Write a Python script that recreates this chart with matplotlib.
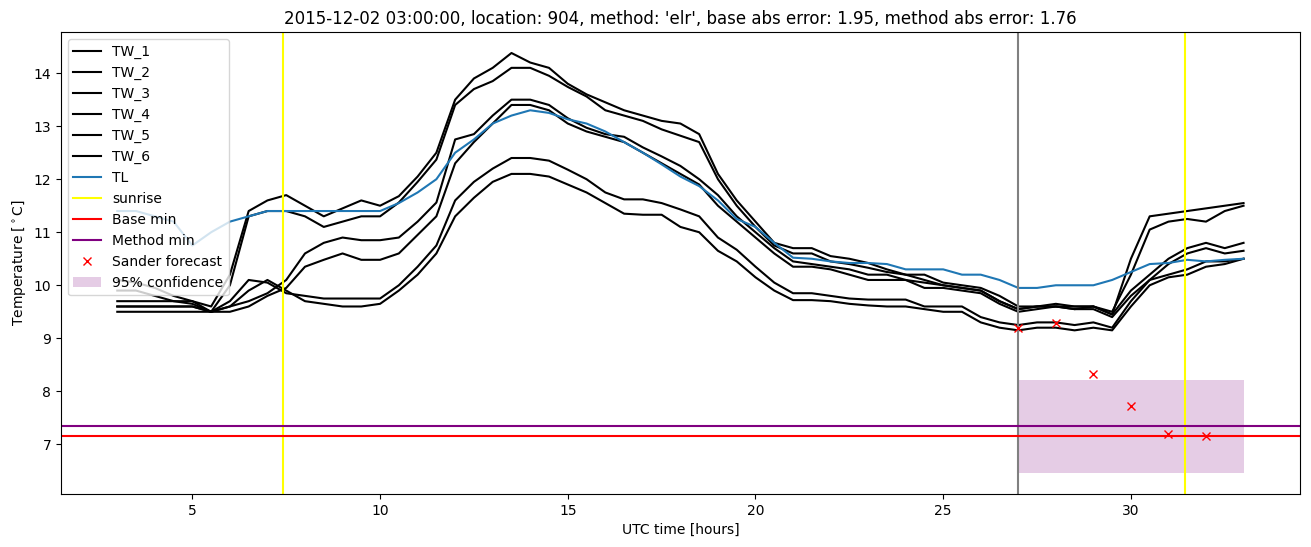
import matplotlib
matplotlib.use('Agg')
import matplotlib.pyplot as plt

# time axis [hours since 2015-12-01 00:00 UTC], half-hourly
hours = [3.0, 3.5, 4.0, 4.5, 5.0, 5.5, 6.0, 6.5, 7.0, 7.5,
         8.0, 8.5, 9.0, 9.5, 10.0, 10.5, 11.0, 11.5, 12.0, 12.5,
         13.0, 13.5, 14.0, 14.5, 15.0, 15.5, 16.0, 16.5, 17.0, 17.5,
         18.0, 18.5, 19.0, 19.5, 20.0, 20.5, 21.0, 21.5, 22.0, 22.5,
         23.0, 23.5, 24.0, 24.5, 25.0, 25.5, 26.0, 26.5, 27.0, 27.5,
         28.0, 28.5, 29.0, 29.5, 30.0, 30.5, 31.0, 31.5, 32.0, 32.5,
         33.0]

tw_1 = [9.7, 9.7, 9.7, 9.7, 9.7, 9.6, 10.2, 11.4, 11.6, 11.7,
        11.5, 11.3, 11.45, 11.6, 11.5, 11.68, 12.05, 12.5, 13.5, 13.9,
        14.1, 14.38, 14.2, 14.1, 13.8, 13.6, 13.45, 13.3, 13.2, 13.1,
        13.05, 12.85, 12.1, 11.6, 11.2, 10.8, 10.7, 10.7, 10.55, 10.5,
        10.42, 10.3, 10.2, 10.2, 10.05, 10.0, 9.95, 9.8, 9.6, 9.6,
        9.65, 9.6, 9.6, 9.45, 10.5, 11.3, 11.35, 11.4, 11.45, 11.5,
        11.55]
tw_2 = [9.6, 9.6, 9.6, 9.6, 9.6, 9.5, 10.0, 11.3, 11.4, 11.4,
        11.3, 11.1, 11.2, 11.3, 11.3, 11.56, 11.95, 12.37, 13.4, 13.7,
        13.85, 14.1, 14.1, 13.95, 13.74, 13.56, 13.3, 13.2, 13.1, 12.94,
        12.82, 12.7, 12.0, 11.5, 11.1, 10.75, 10.6, 10.6, 10.45, 10.4,
        10.33, 10.25, 10.2, 10.1, 10.0, 9.95, 9.9, 9.7, 9.55, 9.6,
        9.6, 9.55, 9.6, 9.5, 10.2, 11.05, 11.2, 11.25, 11.2, 11.4,
        11.5]
tw_3 = [10.1, 10.05, 9.95, 9.8, 9.7, 9.5, 9.6, 9.7, 9.85, 10.1,
        10.6, 10.8, 10.9, 10.85, 10.85, 10.9, 11.2, 11.56, 12.75, 12.85,
        13.2, 13.5, 13.5, 13.4, 13.15, 12.97, 12.85, 12.8, 12.6, 12.43,
        12.25, 12.0, 11.7, 11.3, 11.0, 10.7, 10.45, 10.4, 10.35, 10.3,
        10.2, 10.2, 10.1, 10.05, 10.0, 9.95, 9.9, 9.7, 9.55, 9.6,
        9.6, 9.6, 9.6, 9.45, 9.9, 10.2, 10.5, 10.7, 10.8, 10.7,
        10.8]
tw_4 = [9.9, 9.9, 9.8, 9.7, 9.65, 9.5, 9.5, 9.6, 9.8, 9.95,
        10.35, 10.48, 10.6, 10.48, 10.48, 10.6, 10.95, 11.3, 12.3, 12.7,
        13.05, 13.4, 13.4, 13.3, 13.05, 12.9, 12.8, 12.7, 12.5, 12.3,
        12.1, 11.9, 11.5, 11.2, 10.9, 10.6, 10.35, 10.35, 10.3, 10.2,
        10.1, 10.1, 10.1, 9.95, 9.95, 9.9, 9.85, 9.65, 9.5, 9.55,
        9.6, 9.55, 9.55, 9.4, 9.8, 10.1, 10.4, 10.6, 10.7, 10.6,
        10.65]
tw_5 = [9.6, 9.6, 9.6, 9.6, 9.6, 9.5, 9.7, 10.1, 10.05, 9.85,
        9.8, 9.75, 9.75, 9.75, 9.75, 10.0, 10.35, 10.75, 11.6, 11.95,
        12.2, 12.4, 12.4, 12.35, 12.18, 12.0, 11.75, 11.62, 11.62, 11.55,
        11.43, 11.3, 10.9, 10.67, 10.35, 10.05, 9.85, 9.85, 9.8, 9.75,
        9.73, 9.73, 9.73, 9.6, 9.6, 9.6, 9.4, 9.3, 9.25, 9.3,
        9.3, 9.25, 9.3, 9.2, 9.7, 10.1, 10.2, 10.3, 10.45, 10.45,
        10.5]
tw_6 = [9.5, 9.5, 9.5, 9.5, 9.5, 9.5, 9.6, 9.9, 10.1, 9.9,
        9.7, 9.65, 9.6, 9.6, 9.65, 9.9, 10.2, 10.6, 11.3, 11.65,
        11.95, 12.1, 12.1, 12.05, 11.9, 11.75, 11.55, 11.35, 11.33, 11.33,
        11.1, 11.0, 10.65, 10.45, 10.15, 9.9, 9.72, 9.72, 9.7, 9.65,
        9.62, 9.6, 9.6, 9.55, 9.5, 9.5, 9.3, 9.2, 9.15, 9.2,
        9.2, 9.15, 9.2, 9.15, 9.6, 10.0, 10.15, 10.2, 10.35, 10.4,
        10.5]
tl = [11.4, 11.4, 11.3, 11.2, 10.75, 11.0, 11.2, 11.3, 11.4, 11.4,
      11.4, 11.4, 11.4, 11.4, 11.4, 11.55, 11.75, 12.0, 12.5, 12.75,
      13.05, 13.2, 13.3, 13.25, 13.13, 13.05, 12.9, 12.7, 12.5, 12.28,
      12.05, 11.87, 11.6, 11.25, 11.1, 10.8, 10.52, 10.5, 10.45, 10.42,
      10.42, 10.4, 10.3, 10.3, 10.3, 10.2, 10.2, 10.1, 9.95, 9.95,
      10.0, 10.0, 10.0, 10.1, 10.25, 10.4, 10.42, 10.48, 10.45, 10.48,
      10.5]
tw_series = [tw_1, tw_2, tw_3, tw_4, tw_5, tw_6]
tw_names = ['TW_1', 'TW_2', 'TW_3', 'TW_4', 'TW_5', 'TW_6']

sunrise = [7.42, 31.43]
forecast_time = 27.0
base_min = 7.16
method_min = 7.35
sander_hours = [27, 28, 29, 30, 31, 32]
sander_values = [9.19, 9.29, 8.32, 7.72, 7.2, 7.15]
conf_hours = [27.0, 33.0]
conf_low = 6.46
conf_high = 8.21

title = ("2015-12-02 03:00:00, location: 904, method: 'elr', "
         "base abs error: 1.95, method abs error: 1.76")

fig = plt.figure(figsize=(13.11, 5.47), dpi=100)
ax = fig.add_axes([0.0465, 0.0969, 0.945, 0.8446])

for name, vals in zip(tw_names, tw_series):
    ax.plot(hours, vals, color='black', label=name)
ax.plot(hours, tl, color='tab:blue', label='TL')

ax.axvline(sunrise[0], color='yellow', label='sunrise')
ax.axvline(sunrise[1], color='yellow')
ax.axvline(forecast_time, color='grey')
ax.axhline(base_min, color='red', label='Base min')
ax.axhline(method_min, color='purple', label='Method min')
ax.plot(sander_hours, sander_values, 'x', color='red', linestyle='none',
        label='Sander forecast')
ax.fill_between(conf_hours, conf_low, conf_high, color='purple', alpha=0.2,
                linewidth=0, label='95% confidence')

ax.set_title(title)
ax.set_xlabel('UTC time [hours]')
ax.set_ylabel(r'Temperature [$^\circ$C]')
ax.legend(loc='upper left')

fig.savefig('out.png', dpi=100)
